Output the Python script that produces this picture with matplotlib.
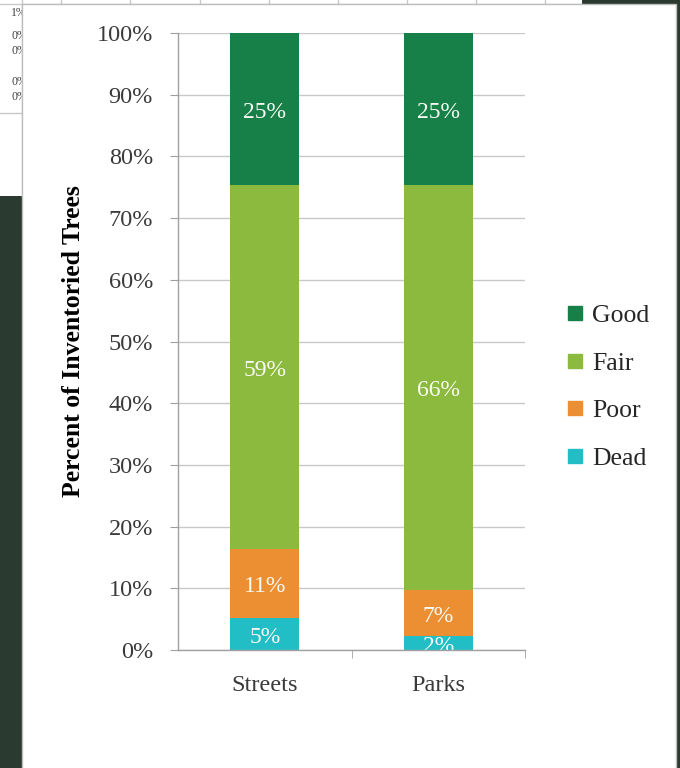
import matplotlib
matplotlib.use("Agg")
import matplotlib.pyplot as plt
from matplotlib.patches import Rectangle
from matplotlib.lines import Line2D
from matplotlib.transforms import offset_copy

categories = ["Streets", "Parks"]
series = ["Dead", "Poor", "Fair", "Good"]
dead = [5.2, 2.3]
poor = [11.2, 7.4]
fair = [59.0, 65.7]
good = [24.6, 24.6]
yticks = [0, 10, 20, 30, 40, 50, 60, 70, 80, 90, 100]
colors = {"Dead": "#22bec6", "Poor": "#ec8f33", "Fair": "#8cba3f", "Good": "#178049"}

W, H = 680, 768
fig = plt.figure(figsize=(W / 100, H / 100), dpi=100)
fig.patch.set_facecolor("#2b3a30")

def px_rect(x0, y0, x1, y1, z=-5, **kw):
    fig.patches.append(Rectangle((x0 / W, 1 - y1 / H), (x1 - x0) / W, (y1 - y0) / H,
                                 transform=fig.transFigure, zorder=z, **kw))

def px_line(xs, ys, **kw):
    fig.lines.append(Line2D([v / W for v in xs], [1 - v / H for v in ys],
                            transform=fig.transFigure, zorder=-6, **kw))

serif = ["Liberation Serif", "DejaVu Serif"]

# background screenshot pieces (spreadsheet behind the chart)
px_rect(0, 0, 582, 5, z=-8, facecolor="white", edgecolor="none")
px_rect(0, 0, 22, 196, z=-8, facecolor="white", edgecolor="none")
px_line([0, 582], [4, 4], color="#c8c8c8", linewidth=1)
for xv in [61, 130, 200, 269, 338, 407, 476, 545]:
    px_line([xv, xv], [0, 4], color="#c8c8c8", linewidth=1)
px_line([0, 22], [113, 113], color="#c8c8c8", linewidth=1)
px_line([22, 22], [0, 196], color="#c8c8c8", linewidth=1)
for (tx, ty, s) in [(27, 13, "1%"), (27, 36, "0%"), (27, 51, "0%"), (27, 82, "0%"), (27, 97, "0%")]:
    fig.text(tx / W, 1 - ty / H, s, ha="right", va="center", fontsize=8.5,
             family=serif, color="#404040", zorder=-7)
px_rect(22, 4, 676, 770, z=-5, facecolor="white", edgecolor="#bdbdbd", linewidth=1.0)

ax = fig.add_axes([178 / W, 1 - 650 / H, 347 / W, 617 / H])
ax.set_facecolor("none")
ax.set_zorder(1)

text_color = "#3a3a3a"

label_tr = offset_copy(ax.transData, fig=fig, x=0, y=-3.5, units="dots")
x = list(range(len(categories)))
bottom = [0.0, 0.0]
data = {"Dead": dead, "Poor": poor, "Fair": fair, "Good": good}
for s in series:
    vals = data[s]
    ax.bar(x, vals, width=0.4, bottom=bottom, color=colors[s], zorder=3)
    for i, v in enumerate(vals):
        ax.text(x[i], bottom[i] + v / 2, f"{v:.0f}%", ha="center", va="center",
                color="#fbfbf5", fontsize=17, family=serif, zorder=4, clip_on=True,
                transform=label_tr)
    bottom = [b + v for b, v in zip(bottom, vals)]

ax.set_xlim(-0.5, 1.5)
ax.set_ylim(0, 100)
ax.set_yticks(yticks)
ax.set_yticklabels([f"{t}%" for t in yticks], family=serif, fontsize=17.5, color=text_color)
ax.set_xticks(x)
ax.set_xticklabels(categories, family=serif, fontsize=17.5, color=text_color)
ax.tick_params(axis="x", length=0, pad=18)
ax.tick_params(axis="y", length=6, color="#a0a0a0", pad=12)
ax.set_xticks([0.5, 1.5], minor=True)
ax.tick_params(axis="x", which="minor", length=6, color="#a0a0a0")
ax.grid(axis="y", color="#c8c8c8", linewidth=1.0, zorder=0)
for sp in ["top", "right"]:
    ax.spines[sp].set_visible(False)
for sp in ["left", "bottom"]:
    ax.spines[sp].set_color("#a0a0a0")
    ax.spines[sp].set_linewidth(1.0)
ax.spines["bottom"].set_zorder(5)

ax.set_ylabel("Percent of Inventoried Trees", family=serif, fontsize=18.5,
              fontweight="bold", color="black")
ax.yaxis.set_label_coords(-0.268, 0.5)

handles = [Line2D([], [], marker="s", linestyle="none", markersize=10.5,
                  markerfacecolor=colors[s], markeredgecolor=colors[s]) for s in reversed(series)]
leg = fig.legend(handles, list(reversed(series)), loc="center left",
                 bbox_to_anchor=(543 / W, 1 - 387 / H), frameon=False,
                 prop={"family": serif, "size": 18.5}, labelspacing=0.95,
                 handlelength=0.7, handletextpad=0.3)
leg.set_zorder(2)
for t in leg.get_texts():
    t.set_color("#262626")

fig.savefig("out.png", dpi=100, facecolor=fig.get_facecolor())
